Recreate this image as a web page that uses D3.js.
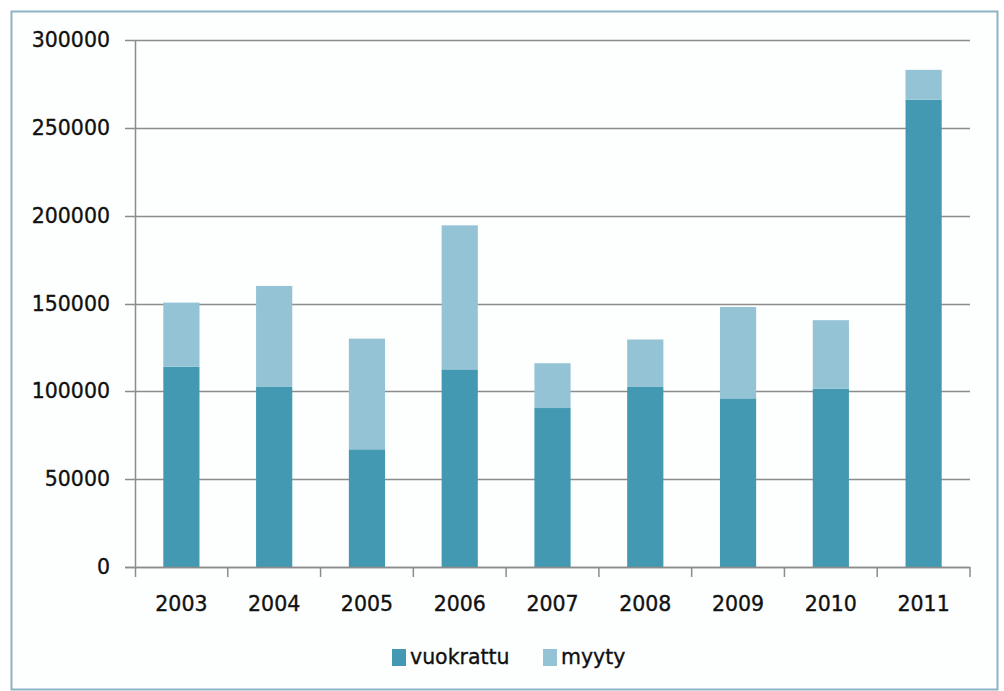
<!DOCTYPE html>
<html>
<head>
<meta charset="utf-8">
<script src="https://cdn.jsdelivr.net/npm/d3@7"></script>
<style>
  html, body { margin: 0; padding: 0; background: #fff; }
  svg { display: block; }
  text { font-family: "DejaVu Sans", Verdana, sans-serif; fill: #111; stroke: #111; stroke-width: 0.35px; }
</style>
</head>
<body>
<script>
"use strict";

const years = ["2003", "2004", "2005", "2006", "2007", "2008", "2009", "2010", "2011"];
const vuokrattu = [114000, 102500, 67000, 112500, 90500, 102500, 96000, 101500, 266000];
const myyty = [36500, 57500, 63000, 82000, 25500, 27000, 52000, 39000, 17000];
const seriesNames = ["vuokrattu", "myyty"];
const yTicks = [0, 50000, 100000, 150000, 200000, 250000, 300000];

const W = 1004, H = 691;
const plot = { left: 135, right: 970, top: 40, bottom: 567 };
const colors = { vuokrattu: "#4399b1", myyty: "#93c3d5" };

const svg = d3.select("body").append("svg").attr("width", W).attr("height", H);

// outer frame
svg.append("rect")
   .attr("x", 11.5).attr("y", 11.5)
   .attr("width", 986).attr("height", 678)
   .attr("fill", "#fdfefe")
   .attr("stroke", "#8db3c4")
   .attr("stroke-width", 2);

const x = d3.scaleBand().domain(years).range([plot.left, plot.right]).paddingInner(0.61).paddingOuter(0.305);
const xb = d3.scaleBand().domain(years).range([plot.left, plot.right]);
const y = d3.scaleLinear().domain([0, 300000]).range([plot.bottom, plot.top]);

// gridlines
svg.append("g")
   .selectAll("line")
   .data(yTicks)
   .enter()
   .append("line")
   .attr("x1", plot.left - 10).attr("x2", plot.right)
   .attr("y1", d => Math.round(y(d)) + 0.5).attr("y2", d => Math.round(y(d)) + 0.5)
   .attr("stroke", "#8c8c8c").attr("stroke-width", 1.5);

// y labels
svg.append("g")
   .selectAll("text")
   .data(yTicks)
   .enter()
   .append("text")
   .attr("x", 110)
   .attr("y", d => y(d) + 7)
   .attr("text-anchor", "end")
   .style("font-size", "20.5px")
   .text(d => d);

// stacked bars
const stack = d3.stack().keys(seriesNames)(years.map((yr, i) => ({ year: yr, vuokrattu: vuokrattu[i], myyty: myyty[i] })));

svg.append("g")
   .selectAll("g")
   .data(stack)
   .enter()
   .append("g")
   .attr("fill", s => colors[s.key])
   .selectAll("rect")
   .data(s => s)
   .enter()
   .append("rect")
   .attr("x", d => x(d.data.year))
   .attr("width", x.bandwidth())
   .attr("y", d => y(d[1]))
   .attr("height", d => y(d[0]) - y(d[1]));

// y axis line
svg.append("line")
   .attr("x1", plot.left + 0.5).attr("x2", plot.left + 0.5)
   .attr("y1", plot.top).attr("y2", plot.bottom + 10)
   .attr("stroke", "#8c8c8c").attr("stroke-width", 1.5);

// x axis line + ticks
svg.append("line")
   .attr("x1", plot.left - 10).attr("x2", plot.right)
   .attr("y1", y(0) + 0.5).attr("y2", y(0) + 0.5)
   .attr("stroke", "#8c8c8c").attr("stroke-width", 1.5);

svg.append("g")
   .selectAll("line")
   .data(years)
   .enter()
   .append("line")
   .attr("x1", d => xb(d) + xb.bandwidth())
   .attr("x2", d => xb(d) + xb.bandwidth())
   .attr("y1", plot.bottom).attr("y2", plot.bottom + 10)
   .attr("stroke", "#8c8c8c").attr("stroke-width", 1.5);

// x labels
svg.append("g")
   .selectAll("text")
   .data(years)
   .enter()
   .append("text")
   .attr("x", d => xb(d) + xb.bandwidth() / 2)
   .attr("y", 611)
   .attr("text-anchor", "middle")
   .style("font-size", "20.5px")
   .text(d => d);

// legend
const legendPos = [{ sx: 392, tx: 410 }, { sx: 543, tx: 561 }];
const legend = svg.append("g")
   .selectAll("g")
   .data(seriesNames)
   .enter()
   .append("g");

legend.append("rect")
   .attr("x", (d, i) => legendPos[i].sx)
   .attr("y", 649)
   .attr("width", 14).attr("height", 17)
   .attr("fill", d => colors[d]);

legend.append("text")
   .attr("x", (d, i) => legendPos[i].tx)
   .attr("y", 664)
   .style("font-size", "20.5px")
   .text(d => d);
</script>
</body>
</html>
